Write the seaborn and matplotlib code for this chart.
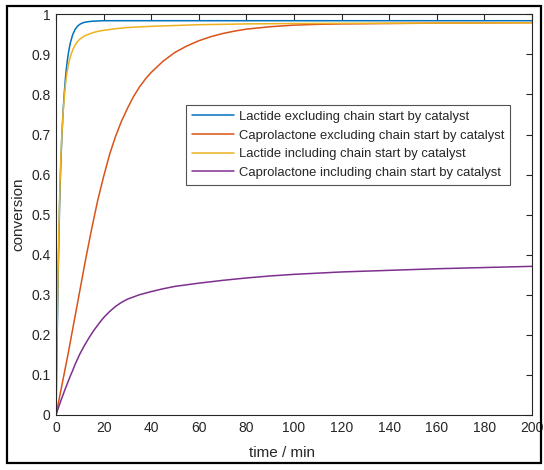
import matplotlib
matplotlib.use("Agg")
import matplotlib.pyplot as plt
from matplotlib.patches import Rectangle
from matplotlib.ticker import FuncFormatter
import seaborn as sns
import pandas as pd

# Conversion vs. time for the four polymerisation cases
lactide_ex_t = [0, 0.25, 0.5, 0.75, 1, 1.25, 1.5, 1.75, 2, 2.5, 3, 3.5, 4, 4.5, 5, 5.5, 6,
                7, 8, 9, 10, 11, 12, 14, 16, 20, 30, 60, 100, 200]
lactide_ex_v = [0, 0.10, 0.20, 0.29, 0.38, 0.45, 0.52, 0.575, 0.625, 0.70, 0.76, 0.805,
                0.843, 0.872, 0.895, 0.913, 0.928, 0.949, 0.962, 0.970, 0.975, 0.978,
                0.980, 0.982, 0.983, 0.984, 0.984, 0.984, 0.984, 0.984]

capro_ex_t = [0, 2.5, 5, 7.5, 10, 12.5, 15, 17.5, 20, 22.5, 25, 27.5, 30, 32.5, 35, 37.5,
              40, 45, 50, 55, 60, 65, 70, 75, 80, 90, 100, 110, 120, 140, 160, 200]
capro_ex_v = [0, 0.075, 0.15, 0.23, 0.31, 0.39, 0.465, 0.535, 0.595, 0.65, 0.695, 0.733,
              0.765, 0.794, 0.818, 0.838, 0.855, 0.883, 0.905, 0.921, 0.934, 0.944, 0.952,
              0.958, 0.963, 0.969, 0.973, 0.975, 0.976, 0.977, 0.978, 0.979]

lactide_in_t = [0, 0.25, 0.5, 0.75, 1, 1.25, 1.5, 1.75, 2, 2.5, 3, 3.5, 4, 4.5, 5, 5.5, 6,
                7, 8, 9, 10, 12, 14, 16, 18, 20, 25, 30, 40, 50, 60, 80, 100, 150, 200]
lactide_in_v = [0, 0.12, 0.23, 0.32, 0.40, 0.47, 0.535, 0.59, 0.635, 0.705, 0.755, 0.795,
                0.826, 0.85, 0.868, 0.882, 0.894, 0.911, 0.923, 0.932, 0.938, 0.946, 0.951,
                0.955, 0.958, 0.960, 0.964, 0.967, 0.970, 0.972, 0.974, 0.976, 0.977,
                0.978, 0.979]

capro_in_t = [0, 1, 2, 3, 4, 5, 6, 7, 8, 9, 10, 12, 14, 16, 18, 20, 22.5, 25, 27.5, 30, 35,
              40, 45, 50, 60, 70, 80, 90, 100, 120, 140, 160, 180, 200]
capro_in_v = [0, 0.018, 0.035, 0.051, 0.067, 0.082, 0.097, 0.111, 0.126, 0.139, 0.152,
              0.174, 0.194, 0.212, 0.228, 0.243, 0.258, 0.271, 0.281, 0.289, 0.300, 0.308,
              0.315, 0.321, 0.329, 0.336, 0.342, 0.347, 0.351, 0.357, 0.361, 0.365, 0.368,
              0.371]

series_names = [
    "Lactide excluding chain start by catalyst",
    "Caprolactone excluding chain start by catalyst",
    "Lactide including chain start by catalyst",
    "Caprolactone including chain start by catalyst",
]
series_colors = ["#0072BD", "#D95319", "#EDB120", "#7E2F8E"]

x_ticks = [0, 20, 40, 60, 80, 100, 120, 140, 160, 180, 200]
y_ticks = [0, 0.1, 0.2, 0.3, 0.4, 0.5, 0.6, 0.7, 0.8, 0.9, 1]

frames = []
for name, t, v in zip(series_names,
                      [lactide_ex_t, capro_ex_t, lactide_in_t, capro_in_t],
                      [lactide_ex_v, capro_ex_v, lactide_in_v, capro_in_v]):
    frames.append(pd.DataFrame({"time": t, "conversion": v, "series": name}))
df = pd.concat(frames, ignore_index=True)

sns.set_style("white")
plt.rcParams["font.family"] = ["Liberation Sans", "DejaVu Sans"]

fig = plt.figure(figsize=(5.44, 4.70), dpi=100)
ax = fig.add_axes([56 / 544, 1 - 415 / 470, (532 - 56) / 544, (415 - 14.3) / 470])

sns.lineplot(data=df, x="time", y="conversion", hue="series", hue_order=series_names,
             palette=series_colors, estimator=None, sort=False, linewidth=1.1, ax=ax)

ax.set_xlim(0, 200)
ax.set_ylim(0, 1)
ax.set_xticks(x_ticks)
ax.set_yticks(y_ticks)
ax.yaxis.set_major_formatter(FuncFormatter(lambda v, p: f"{v:g}"))
ax.tick_params(direction="in", length=4, width=0.8, top=True, right=True,
               labelsize=10, colors="#262626", pad=4)
for s in ax.spines.values():
    s.set_color("#262626")
    s.set_linewidth(0.8)
ax.set_xlabel("time / min", fontsize=11, color="#262626")
ax.xaxis.set_label_coords((282 - 56) / 476, -0.077)
ax.set_ylabel("conversion", fontsize=11, color="#262626", labelpad=4)

leg = ax.legend(loc="upper left", bbox_to_anchor=(186 / 544, 1 - 105 / 470),
                bbox_transform=fig.transFigure, frameon=True, fancybox=False,
                edgecolor="#262626", fontsize=9.4, handlelength=3.2, handletextpad=0.4,
                borderpad=0.45, labelspacing=0.5, borderaxespad=0)
leg.get_frame().set_linewidth(0.8)
for line in leg.get_lines():
    line.set_linewidth(1.1)

# outer frame around the whole figure
fig.patches.append(Rectangle((7 / 544, 1 - 463 / 470), (541 - 7) / 544, (463 - 6) / 470,
                             transform=fig.transFigure, fill=False, edgecolor="black",
                             linewidth=1.6))

fig.savefig("out.png", dpi=100)
